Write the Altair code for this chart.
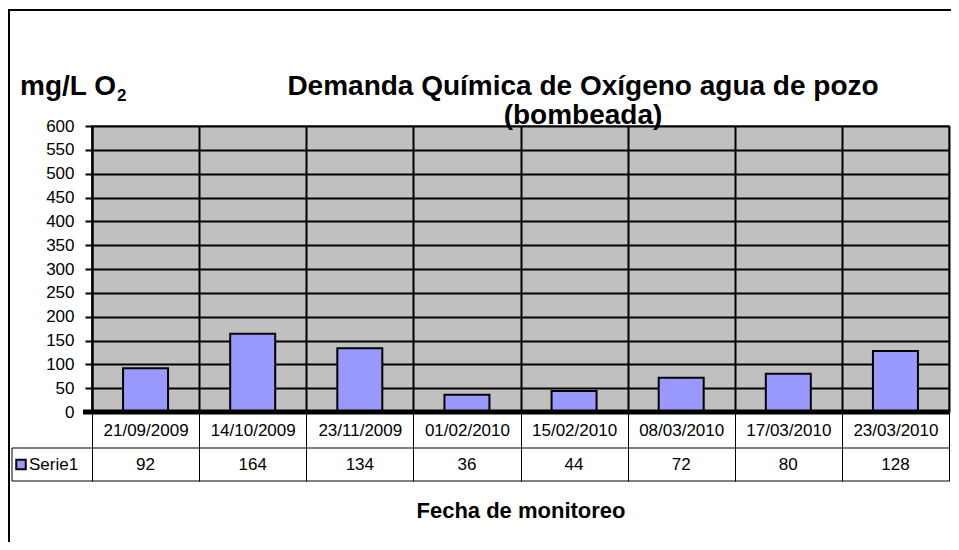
import altair as alt
import pandas as pd

# ---- data ----
dates = ["21/09/2009", "14/10/2009", "23/11/2009", "01/02/2010",
         "15/02/2010", "08/03/2010", "17/03/2010", "23/03/2010"]
values = [92, 164, 134, 36, 44, 72, 80, 128]
series_name = "Serie1"
y_ticks = list(range(0, 601, 50))
title_lines = ["Demanda Química de Oxígeno agua de pozo", "(bombeada)"]
unit_main = "mg/L O"
unit_sub = "2"
x_title = "Fecha de monitoreo"

df = pd.DataFrame({"fecha": dates, "valor": values})
one = alt.Data(values=[{}])

W, H = 857, 286
FONT = "Liberation Sans"
BAR = "#9999FF"

x_enc = alt.X(
    "fecha:N", sort=dates,
    scale=alt.Scale(paddingInner=0, paddingOuter=0),
    axis=alt.Axis(
        title=x_title, labelAngle=0, labelFontSize=17, labelFont=FONT,
        labelColor="black", labelBaseline="middle", labelPadding=18 - 69,
        tickBand="extent", tickSize=69, tickWidth=1, tickColor="black",
        grid=True, gridColor="black", gridWidth=2, domain=False,
        titleFontSize=22, titleFont=FONT, titleFontWeight="bold",
        titleColor="black", titleX=W / 2, titleY=98, titleBaseline="middle",
        titleAlign="center", labelOverlap=False,
    ),
)
y_enc = alt.Y(
    "valor:Q",
    scale=alt.Scale(domain=[0, 600], nice=False),
    axis=alt.Axis(
        values=y_ticks, title=None, labelFontSize=17, labelFont=FONT,
        labelColor="black", tickSize=7, tickWidth=2, tickColor="black",
        labelPadding=11, domainColor="black", domainWidth=2,
        gridColor="black", gridWidth=2, labelOverlap=False,
    ),
)

bars = alt.Chart(df).mark_bar(
    width={"band": 0.42}, color=BAR, stroke="black", strokeWidth=2
).encode(x=x_enc, y=y_enc)

zero_line = alt.Chart(one).mark_rule(color="black", strokeWidth=5).encode(
    y=alt.value(H), x=alt.value(-9), x2=alt.value(W)
)

value_row = alt.Chart(df).mark_text(
    font=FONT, fontSize=17, color="black", baseline="middle"
).encode(x=alt.X("fecha:N", sort=dates), y=alt.value(338.5), text="valor:Q")

table_lines = [
    alt.Chart(one).mark_rule(color="black", strokeWidth=1).encode(
        x=alt.value(-80), x2=alt.value(W), y=alt.value(322)),
    alt.Chart(one).mark_rule(color="black", strokeWidth=1).encode(
        x=alt.value(-80), x2=alt.value(W), y=alt.value(355)),
    alt.Chart(one).mark_rule(color="black", strokeWidth=1).encode(
        x=alt.value(-80), y=alt.value(322), y2=alt.value(355)),
]

legend_sq = alt.Chart(one).mark_square(
    size=90, fill=BAR, stroke="black", strokeWidth=2, opacity=1
).encode(x=alt.value(-71), y=alt.value(338.5))
legend_tx = alt.Chart(one).mark_text(
    font=FONT, fontSize=17, color="black", align="left", baseline="middle",
    text=series_name
).encode(x=alt.value(-63), y=alt.value(338.5))

title1 = alt.Chart(one).mark_text(
    font=FONT, fontSize=28, fontWeight="bold", color="black", align="center",
    baseline="alphabetic", text=title_lines[0]
).encode(x=alt.value(491), y=alt.value(-31))
title2 = alt.Chart(one).mark_text(
    font=FONT, fontSize=28, fontWeight="bold", color="black", align="center",
    baseline="alphabetic", text=title_lines[1]
).encode(x=alt.value(491), y=alt.value(-2))

unit1 = alt.Chart(one).mark_text(
    font=FONT, fontSize=28, fontWeight="bold", color="black", align="left",
    baseline="alphabetic", text=unit_main
).encode(x=alt.value(-72), y=alt.value(-31))
unit2 = alt.Chart(one).mark_text(
    font=FONT, fontSize=17, fontWeight="bold", color="black", align="left",
    baseline="alphabetic", text=unit_sub
).encode(x=alt.value(25), y=alt.value(-25))

frame_top = alt.Chart(one).mark_rule(color="black", strokeWidth=2).encode(
    x=alt.value(-84), x2=alt.value(W + 20), y=alt.value(-116))
frame_left = alt.Chart(one).mark_rule(color="black", strokeWidth=2).encode(
    x=alt.value(-83), y=alt.value(-117), y2=alt.value(H + 140))

chart = alt.layer(
    bars, zero_line, value_row, *table_lines, legend_sq, legend_tx,
    title1, title2, unit1, unit2, frame_top, frame_left
).properties(
    width=W, height=H,
    autosize=alt.AutoSizeParams(type="none"),
    padding={"left": 84, "top": 118, "right": 2, "bottom": 130},
    background="white",
).configure_view(
    fill="#C0C0C0", stroke="#808080", strokeWidth=2
)

chart.save("out.html", embed_options={"renderer": "svg", "actions": False})
